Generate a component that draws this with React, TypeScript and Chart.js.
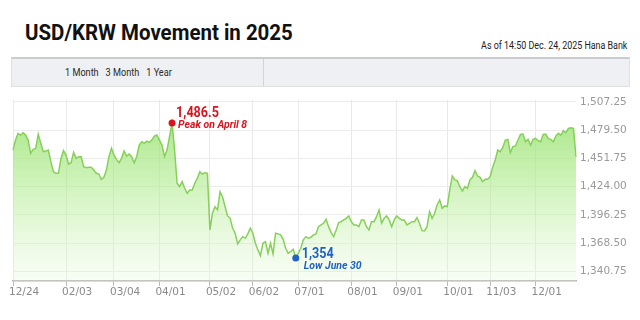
import React, { useEffect, useRef } from "react";
import { Chart, registerables } from "chart.js";

Chart.register(...registerables);

// USD/KRW daily closing values, Dec 24 2024 -> Dec 24 2025
const usdKrw: number[] = [
  1459.9, 1469.7, 1476.3, 1474.6, 1476.9, 1474.6, 1469.7, 1456.7, 1460.6, 1461.6, 1475.6, 1466.5, 1458.3, 1459.0, 1459.9, 1448.5, 1438.7, 1437.1, 1437.1, 1451.8, 1459.3,
  1455.0, 1446.2, 1447.5, 1457.6, 1451.8, 1453.4, 1453.4, 1443.6, 1442.6, 1443.0, 1443.0, 1440.3, 1437.1, 1436.4, 1431.2, 1433.2, 1440.3, 1453.4, 1461.6,
  1455.0, 1450.8, 1447.5, 1451.8, 1459.0, 1454.1, 1456.0, 1453.4, 1447.5, 1453.4, 1464.8, 1468.1, 1466.5, 1468.7, 1467.4, 1469.7, 1473.6, 1474.6,
  1469.7, 1464.8, 1453.4, 1459.9, 1473.0, 1486.5, 1459.9, 1427.3, 1424.0, 1428.9, 1422.4, 1417.5, 1420.8, 1420.8, 1427.3, 1432.2, 1438.7, 1436.4, 1437.7, 1437.1,
  1381.6, 1397.9, 1404.4, 1401.2, 1419.1, 1414.2, 1404.4, 1395.3, 1393.0, 1383.2, 1378.3, 1367.9, 1371.8, 1375.0, 1373.4, 1377.7, 1383.2,
  1378.3, 1368.5, 1362.0, 1356.4, 1368.5, 1370.1, 1358.7, 1368.5, 1358.1, 1378.3, 1377.7, 1376.7, 1372.4, 1363.6, 1358.7, 1360.4, 1362.6, 1354.0,
  1358.7, 1363.6, 1371.8, 1375.0, 1373.4, 1374.4, 1376.7, 1377.7, 1384.8, 1386.5, 1388.1, 1392.0, 1384.8, 1379.0, 1375.0, 1381.6, 1388.8, 1389.7, 1391.4, 1393.0, 1395.3,
  1389.7, 1386.5, 1386.5, 1384.8, 1391.4, 1391.4, 1384.8, 1381.6, 1389.7, 1389.7, 1394.6, 1401.2, 1388.1, 1393.0, 1395.3, 1391.4, 1384.8, 1391.4,
  1395.3, 1393.0, 1391.4, 1391.4, 1386.5, 1388.1, 1389.7, 1389.7, 1393.7, 1388.1, 1380.9, 1380.6, 1384.8, 1399.5, 1393.0, 1397.9, 1406.1, 1411.0, 1402.8, 1405.1,
  1404.4, 1420.8, 1434.5, 1430.6, 1429.9, 1424.0, 1419.8, 1424.0, 1422.4, 1430.6, 1433.2, 1439.7, 1434.5, 1433.2, 1428.9, 1431.2, 1431.2,
  1433.8, 1443.0, 1450.1, 1459.9, 1458.3, 1462.5, 1469.7, 1470.4, 1457.3, 1463.2, 1463.9, 1469.7, 1475.3, 1475.6, 1468.1, 1470.4, 1464.8, 1470.4,
  1471.4, 1469.1, 1468.1, 1475.3, 1475.6, 1471.4, 1470.4, 1468.1, 1473.6, 1476.3, 1474.6, 1478.9, 1476.9, 1481.2, 1481.8, 1481.2, 1453.4,
];

// x-axis tick labels and the trading-day index where each falls
const tickLabels: string[] = ["12/24", "02/03", "03/04", "04/01", "05/02", "06/02", "07/01", "08/01", "09/01", "10/01", "11/03", "12/01"];
const tickIndices: number[] = [0, 21, 40, 58, 78, 95, 113, 134, 152, 172, 189, 207];

// y-axis tick values
const yTicks: number[] = [1340.75, 1368.5, 1396.25, 1424.0, 1451.75, 1479.5, 1507.25];

const periodButtons: string[] = ["1 Month", "3 Month", "1 Year"];

const peakText = { value: "1,486.5", label: "Peak on April 8" };
const lowText = { value: "1,354", label: "Low June 30" };

const NARROW = "'Roboto', 'Liberation Sans', sans-serif";

const categories: string[] = usdKrw.map((_, i) => {
  const j = tickIndices.indexOf(i);
  return j >= 0 ? tickLabels[j] : "";
});

export default function App() {
  const ref = useRef<HTMLCanvasElement | null>(null);

  useEffect(() => {
    if (!ref.current) return;

    const markerPlugin = {
      id: "markers",
      afterDatasetsDraw(chart: any) {
        const ctx = chart.ctx;
        const meta = chart.getDatasetMeta(0);
        let iMax = 0, iMin = 0;
        usdKrw.forEach((v, i) => {
          if (v > usdKrw[iMax]) iMax = i;
          if (v < usdKrw[iMin]) iMin = i;
        });
        const text = (s: string, font: string, x: number, y: number, sx: number) => {
          ctx.save();
          ctx.translate(x, y);
          ctx.scale(sx, 1);
          ctx.font = font;
          ctx.fillText(s, 0, 0);
          ctx.restore();
        };
        const draw = (i: number, color: string, t: any, vdx: number, vdy: number, ldx: number, ldy: number) => {
          const p = meta.data[i];
          ctx.save();
          ctx.fillStyle = color;
          ctx.beginPath();
          ctx.arc(p.x, p.y, 3.5, 0, Math.PI * 2);
          ctx.fill();
          ctx.textAlign = "left";
          ctx.textBaseline = "middle";
          text(t.value, `bold 15px ${NARROW}`, p.x + vdx, p.y + vdy, 0.84);
          text(t.label, `italic bold 11px ${NARROW}`, p.x + ldx, p.y + ldy, 0.95);
          ctx.restore();
        };
        draw(iMax, "#d7141f", peakText, 4, -10, 6, 2.5);
        draw(iMin, "#1f63c6", lowText, 6, -3.5, 8, 8.5);
      },
    };

    const chart = new Chart(ref.current, {
      type: "line",
      data: {
        labels: categories,
        datasets: [
          {
            data: usdKrw,
            borderColor: "#86d05a",
            borderWidth: 1.5,
            pointRadius: 0,
            tension: 0,
            fill: "start",
            backgroundColor: (c: any) => {
              const { chart } = c;
              const area = chart.chartArea;
              if (!area) return "rgba(150,225,110,0.5)";
              const g = chart.ctx.createLinearGradient(0, area.top, 0, area.bottom);
              g.addColorStop(0, "rgba(140,222,95,0.85)");
              g.addColorStop(0.5, "rgba(175,235,140,0.55)");
              g.addColorStop(1, "rgba(225,248,212,0.25)");
              return g;
            },
          },
        ],
      },
      options: {
        animation: false,
        responsive: false,
        events: [],
        layout: { padding: { left: 13, top: 100, right: 0, bottom: 0 } },
        plugins: { legend: { display: false }, tooltip: { enabled: false } },
        scales: {
          x: {
            type: "category",
            afterBuildTicks: (s: any) => {
              s.ticks = tickIndices.map((v) => ({ value: v }));
            },
            afterFit: (s: any) => {
              s.height = 39;
            },
            grid: { color: "#e9e9e9", drawTicks: true, tickLength: 5, tickColor: "#b8b8b8", lineWidth: 1 },
            border: { color: "#b5b5b5", width: 1.5 },
            ticks: {
              autoSkip: false,
              maxRotation: 0,
              align: "start",
              labelOffset: -4,
              padding: 0,
              color: "#8a8a8a",
              font: { family: "'DejaVu Sans', sans-serif", size: 10.5 },
              callback: (v: any) => categories[v as number],
            },
          },
          y: {
            position: "right",
            min: 1331.5,
            max: 1509,
            afterBuildTicks: (s: any) => {
              s.ticks = yTicks.map((v) => ({ value: v }));
            },
            afterFit: (s: any) => {
              s.width = 64;
            },
            grid: { color: "#ececec", drawTicks: false },
            border: { display: false },
            ticks: {
              padding: 4,
              color: "#9a9a9a",
              font: { family: "'DejaVu Sans', sans-serif", size: 10.5 },
              callback: (v: any) =>
                Number(v).toLocaleString("en-US", { minimumFractionDigits: 2, maximumFractionDigits: 2 }),
            },
          },
        },
      },
      plugins: [markerPlugin],
    } as any);

    return () => chart.destroy();
  }, []);

  return (
    <div style={{ position: "fixed", left: 0, top: 0, width: 640, height: 320, background: "#fff", overflow: "hidden" }}>
      <div
        style={{
          position: "absolute",
          left: 25,
          top: 22,
          fontFamily: NARROW,
          fontWeight: "bold",
          fontSize: 22,
          lineHeight: "22px",
          color: "#111",
          whiteSpace: "nowrap",
          transform: "scaleX(0.93)",
          transformOrigin: "left center",
        }}
      >
        USD/KRW Movement in 2025
      </div>
      <div
        style={{
          position: "absolute",
          right: 13,
          top: 40,
          fontFamily: NARROW,
          fontSize: 10,
          lineHeight: "12px",
          color: "#222",
          whiteSpace: "nowrap",
          transform: "scaleX(0.89)",
          transformOrigin: "right center",
        }}
      >
        As of 14:50 Dec. 24, 2025 Hana Bank
      </div>
      <div
        style={{
          position: "absolute",
          left: 11,
          top: 57,
          width: 617,
          height: 27,
          background: "#eef0f3",
          borderTop: "2px solid #c9cbcf",
          borderBottom: "1px solid #e0e0e0",
          borderLeft: "1px solid #e0e0e0",
          borderRight: "1px solid #e0e0e0",
        }}
      >
        <div style={{ position: "absolute", left: 251, top: 0, width: 1, height: 27, background: "#d2d4d8" }} />
        <div
          style={{
            position: "absolute",
            left: 53,
            top: 8,
            fontFamily: NARROW,
            fontSize: 10.5,
            lineHeight: "12px",
            color: "#2a2a2a",
            whiteSpace: "nowrap",
            transform: "scaleX(0.87)",
            transformOrigin: "left center",
          }}
        >
          {periodButtons.map((b) => (
            <span key={b} style={{ marginRight: 8 }}>
              {b}
            </span>
          ))}
        </div>
      </div>
      <canvas ref={ref} width={640} height={320} style={{ position: "absolute", left: 0, top: 0 }} />
    </div>
  );
}
